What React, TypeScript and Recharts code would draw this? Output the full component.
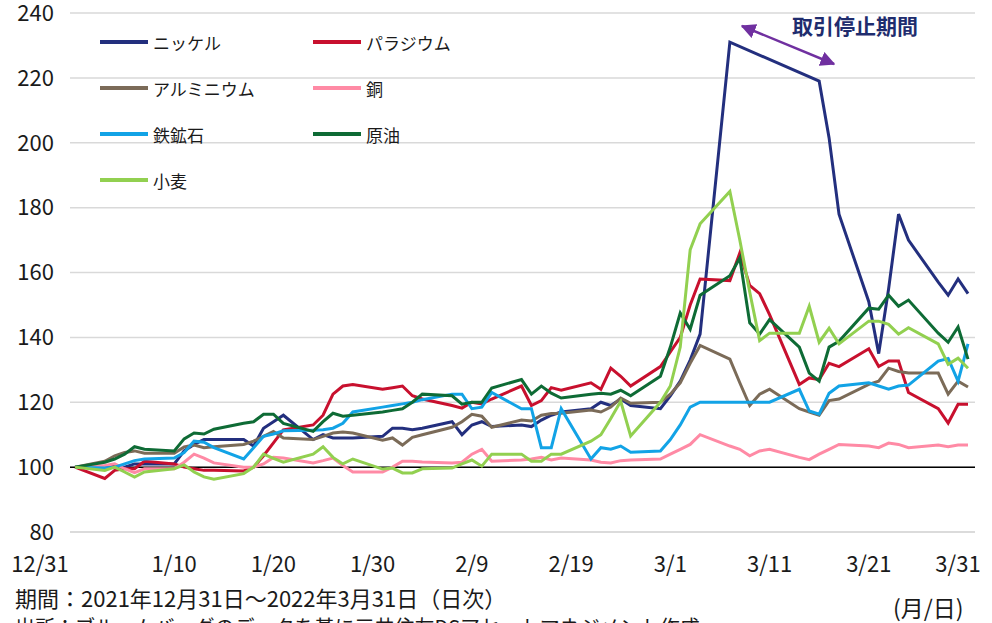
import React from "react";
import {
  LineChart,
  Line,
  XAxis,
  YAxis,
  CartesianGrid,
  ReferenceLine,
} from "recharts";

// 営業日（12/31 からの経過日数）
const days = [
  0, 3, 4, 5, 6, 7, 10, 11, 12, 13, 14, 17, 18, 19, 20, 21, 24, 25, 26, 27, 28,
  31, 32, 33, 34, 35, 38, 39, 40, 41, 42, 45, 46, 47, 48, 49, 52, 53, 54, 55, 56,
  59, 60, 61, 62, 63, 66, 67, 68, 69, 70, 73, 74, 75, 76, 77, 80, 81, 82, 83, 84,
  87, 88, 89, 90,
];

const tickDays = [0, 10, 20, 30, 40, 50, 60, 70, 80, 90];
const tickLabels = ["12/31", "1/10", "1/20", "1/30", "2/9", "2/19", "3/1", "3/11", "3/21", "3/31"];
const yTicks = [80, 100, 120, 140, 160, 180, 200, 220, 240];

const nickel = [
  100, 100, 100.5, 100, 101, 101, 101, 105, 107, 108.5, 108.5, 108.5, 106.5, 112, 114, 116,
  108.5, 110, 109, 109, 109, 109.5, 112, 112, 111.5, 112, 114, 110, 113, 114, 112.5,
  113, 112.5, 114.5, 116, 117, 118, 120, 119, 121, 119, 118, 122, 126.5, 133, 141,
  231, null, null, null, null, null, null, 219, 201.5, 178, 151, 135, 155, 178, 170,
  157, 153, 158, 153.5,
];
const palladium = [
  100, 96.5, 99, 99.5, 99.5, 101.8, 101, 100, 99.5, 99, 99, 98.8, 100, 103.5, 107.5, 111.5,
  113, 116, 122.5, 125, 125.5, 124, 124.5, 125, 122, 121, 119, 118.2, 120, 119.5, 121,
  125, 119, 120.5, 124.5, 123.7, 126, 124, 130.5, 128, 125, 131, 135.5, 140, 150, 158,
  157.5, 166, 156, 153.5, 147, 125.5, 127.5, 127, 132, 131, 136.5, 131, 132.7, 132.7, 123,
  118, 113.6, 119.4, 119.4,
];
const aluminium = [
  100, 101.8, 103.5, 104.5, 105, 104.3, 104.3, 106.2, 106.8, 106, 106.3, 107, 108, 109.5, 111, 109,
  108.5, 109.5, 110.5, 110.8, 110.5, 108.3, 109, 106.8, 109.2, 110, 112.3, 114, 116.3, 115.7, 112.3,
  114.5, 114.2, 116, 116.5, 116.6, 117.6, 117, 118.5, 121.3, 119.7, 120, 122.5, 126, 132, 137.5,
  133.3, 126, 119, 122.5, 124, 118, 117, 116, 120.5, 121, 125.5, 126.5, 130.5, 129.5, 129,
  129, 122.5, 126.5, 124.7,
];
const copper = [
  100, 100.5, 101, 99.5, 98.3, 99.5, 99.5, 101.5, 104, 102.8, 101.3, 100, 100, 101, 103, 102.8,
  101.3, 102, 102.8, 100.5, 98.5, 98.5, 100, 101.8, 101.8, 101.6, 101.3, 101.5, 104, 105.5, 101.8,
  102.2, 102.5, 103, 102.2, 102.8, 102.2, 101.5, 101.3, 102, 102.2, 102.5, 104, 105.5, 107, 110,
  106.5, 105.5, 103.5, 105, 105.5, 103, 102.3, 104, 105.5, 107, 106.5, 106, 107.4, 107, 106,
  106.8, 106.3, 106.8, 106.8,
];
const ironOre = [
  100, 99.7, 100, 101, 102, 102.5, 102.8, 104.5, 108, 107.7, 106, 102.5, 106, 109.5, 110.2, 111.2,
  111.4, 111.5, 112, 113.5, 117, 118.5, 119, 119.5, 120, 120.8, 122.5, 122.5, 118, 118.5, 123,
  118, 118, 106, 106, 118, 102.5, 106, 105.5, 106.5, 104.6, 105, 108.5, 113, 118.5, 120,
  120, 120, 120, 120, 120, 124, 117.3, 116.3, 122.8, 125, 126, 125, 124, 125, 125.3,
  132.7, 133.5, 126.5, 138,
];
const crude = [
  100, 101.5, 102.5, 104, 106.3, 105.5, 105, 108.7, 110.5, 110.2, 111.7, 113.5, 114, 116.3, 116.3, 113.5,
  111, 114, 116.6, 115.7, 116, 117, 117.5, 118, 120, 122.5, 122, 119.4, 120, 120, 124.4,
  127, 122.5, 125, 122.8, 121.3, 122.5, 122.8, 122.5, 123.7, 122, 128, 137, 147.5, 142.5, 153,
  159, 164.5, 144.5, 141, 145.5, 137, 129, 126.5, 137, 138.8, 149, 148.7, 153, 149.6, 151.5,
  141.3, 138.5, 143.2, 133.3,
];
const wheat = [
  100, 99, 100, 98.5, 96.9, 98.5, 99.5, 100.7, 98.5, 97, 96.3, 98, 100, 104, 102.7, 101.5,
  104, 106.3, 103, 101, 102.5, 99.4, 99.7, 98.2, 98.2, 99.5, 99.7, 101, 102.2, 100.3, 104,
  104, 101.8, 101.8, 104, 104, 108, 110, 115, 120.3, 109.6, 120, 125, 137, 167, 175,
  185, 170, 154, 139, 141.3, 141.3, 149.6, 138.5, 142.8, 138, 145, 145, 144, 141, 143,
  138, 131.7, 133.6, 130.5,
];

const series = [
  { key: "nickel", name: "ニッケル", color: "#232f7e", values: nickel },
  { key: "palladium", name: "パラジウム", color: "#c8102e", values: palladium },
  { key: "aluminium", name: "アルミニウム", color: "#7b6b58", values: aluminium },
  { key: "copper", name: "銅", color: "#ff8aa5", values: copper },
  { key: "ironOre", name: "鉄鉱石", color: "#12a3e6", values: ironOre },
  { key: "crude", name: "原油", color: "#0e6b35", values: crude },
  { key: "wheat", name: "小麦", color: "#92d050", values: wheat },
];

const data = days.map((d, i) => {
  const row: Record<string, number | null> = { day: d };
  series.forEach((s) => {
    row[s.key] = s.values[i];
  });
  return row;
});

const FONT = "'Noto Sans CJK JP', 'Noto Sans', sans-serif";

const XTick = (props: any) => {
  const { x, y, payload } = props;
  const i = tickDays.indexOf(payload.value);
  const shift = i === 0 ? -35 : i === tickDays.length - 1 ? -10 : 0;
  return (
    <text x={x + shift} y={y} dy={38} textAnchor="middle" fontSize={22} fill="#1a1a1a" fontFamily={FONT}>
      {tickLabels[i]}
    </text>
  );
};

// 凡例（2列）
const LegendBox = () => (
  <div
    style={{
      position: "absolute",
      left: 100,
      top: 19,
      display: "grid",
      gridTemplateColumns: "213px 213px",
      fontFamily: FONT,
      fontSize: 17,
      color: "#1a1a1a",
    }}
  >
    {series.map((s) => (
      <div key={s.key} style={{ display: "flex", alignItems: "center", height: 46 }}>
        <span style={{ display: "inline-block", width: 48, height: 4, background: s.color, marginRight: 5 }} />
        <span>{s.name}</span>
      </div>
    ))}
  </div>
);

export default function App() {
  return (
    <div style={{ position: "relative", width: 992, height: 623, overflow: "hidden", background: "#fff" }}>
      <style>{`body{margin:0}`}</style>
      <LineChart width={992} height={623} data={data} margin={{ top: 13, right: 17, bottom: 61, left: 8 }}>
        <CartesianGrid vertical={false} stroke="#d9d9d9" strokeWidth={1.5} />
        <XAxis
          dataKey="day"
          type="number"
          domain={[0, 90]}
          ticks={tickDays}
          interval={0}
          padding={{ left: 5, right: 7 }}
          axisLine={{ stroke: "#d9d9d9", strokeWidth: 1.5 }}
          tickLine={false}
          tickSize={0}
          height={30}
          tick={<XTick />}
        />
        <YAxis
          domain={[80, 240]}
          ticks={yTicks}
          interval={0}
          axisLine={false}
          tickLine={false}
          width={62}
          tickMargin={10}
          tick={{ fontSize: 22, fill: "#1a1a1a", fontFamily: FONT }}
        />
        <ReferenceLine y={100} stroke="#000" strokeWidth={1.5} />
        {series.map((s) => (
          <Line
            key={s.key}
            dataKey={s.key}
            name={s.name}
            stroke={s.color}
            strokeWidth={3}
            dot={false}
            connectNulls={s.key === "nickel"}
            isAnimationActive={false}
          />
        ))}
      </LineChart>
      <LegendBox />
      <svg width={992} height={623} style={{ position: "absolute", left: 0, top: 0, pointerEvents: "none" }}>
        <defs>
          <marker id="ah" viewBox="0 0 10 10" refX="9" refY="5" markerWidth="6" markerHeight="6" orient="auto-start-reverse">
            <path d="M0,0 L10,5 L0,10 z" fill="#7030a0" />
          </marker>
        </defs>
        <line x1={742} y1={26} x2={834} y2={64} stroke="#7030a0" strokeWidth={2.5} markerStart="url(#ah)" markerEnd="url(#ah)" />
        <text x={792} y={34} fontSize={21} fontWeight="bold" fill="#1f2d6e" fontFamily={FONT}>
          取引停止期間
        </text>
      </svg>
      <div style={{ position: "absolute", left: 15, top: 581, fontFamily: FONT, fontSize: 22, color: "#1a1a1a", whiteSpace: "nowrap" }}>
        期間：2021年12月31日～2022年3月31日（日次）
      </div>
      <div style={{ position: "absolute", left: 893, top: 590, fontFamily: FONT, fontSize: 23, color: "#1a1a1a", whiteSpace: "nowrap" }}>
        (月/日)
      </div>
      <div style={{ position: "absolute", left: 15, top: 612, fontFamily: FONT, fontSize: 20, color: "#1a1a1a", whiteSpace: "nowrap" }}>
        出所：ブルームバーグのデータを基に三井住友DSアセットマネジメント作成
      </div>
    </div>
  );
}
